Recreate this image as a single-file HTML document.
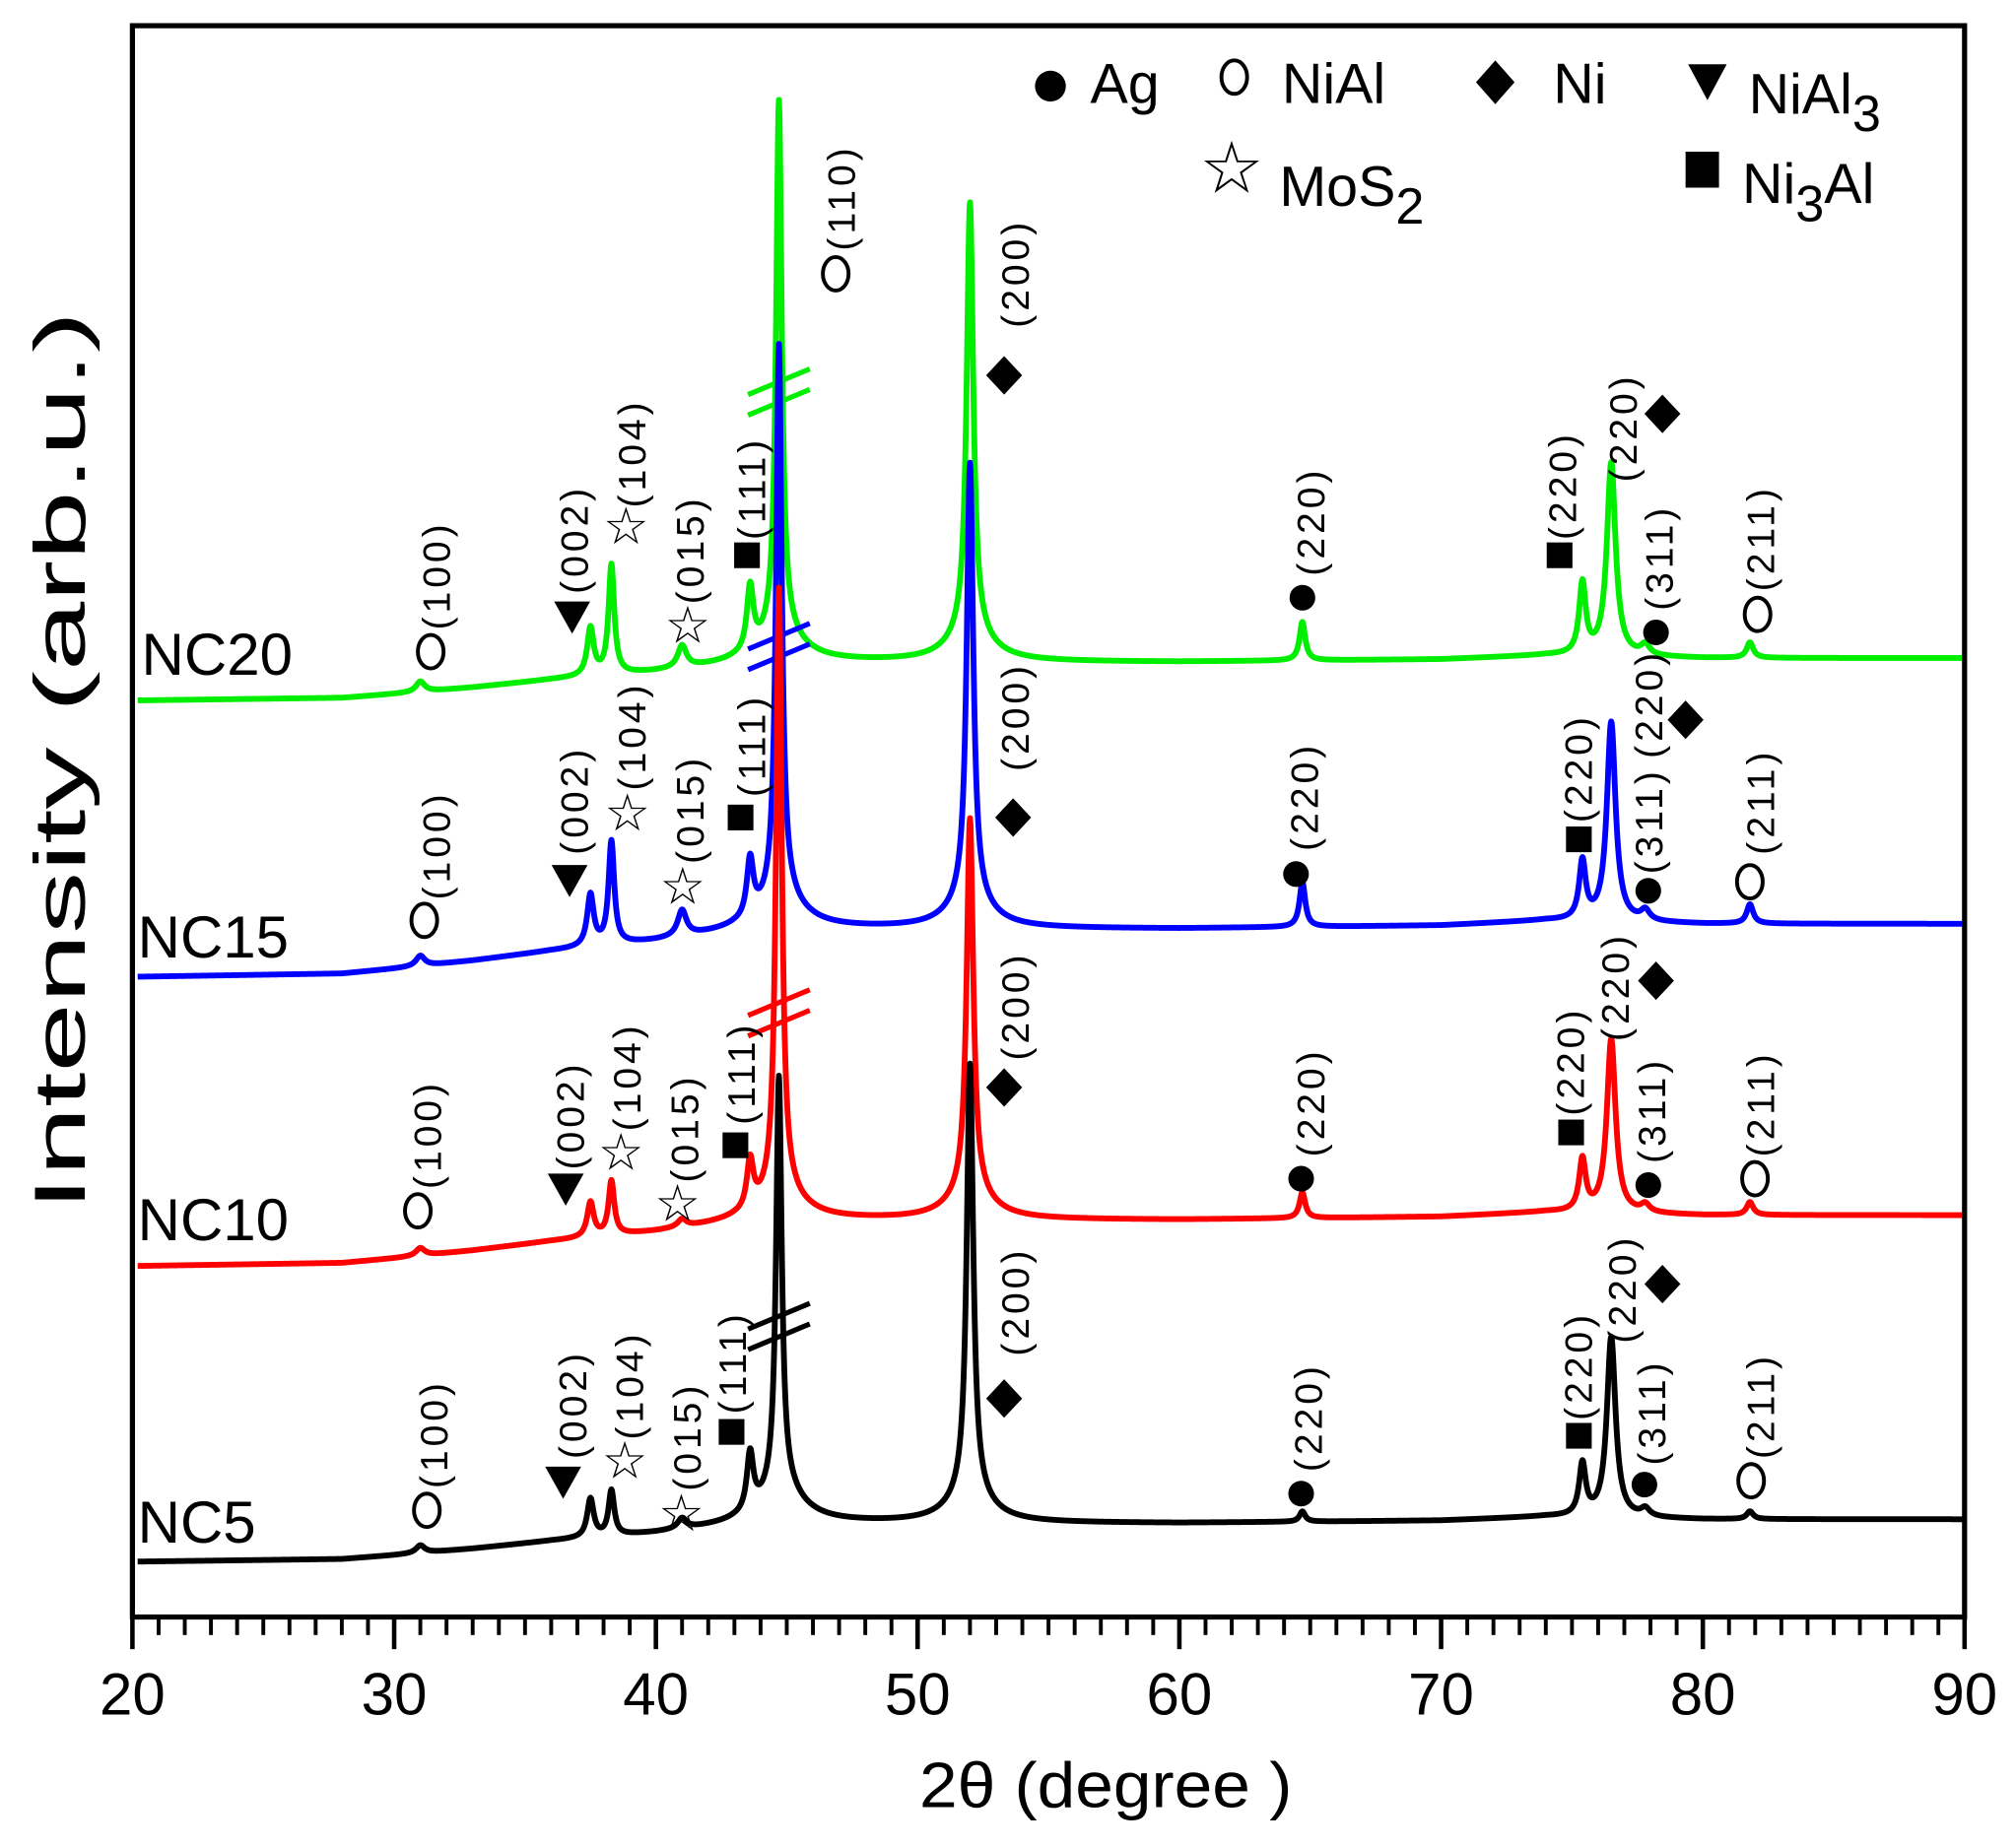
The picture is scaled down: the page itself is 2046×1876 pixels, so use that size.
<!DOCTYPE html>
<html><head><meta charset="utf-8"><style>
html,body{margin:0;padding:0;background:#fff;}
svg{display:block;}
text{font-family:"Liberation Sans",sans-serif;}
</style></head><body>
<svg id="chart" width="2046" height="1876" viewBox="0 0 1568 1437.7" preserveAspectRatio="none" xmlns="http://www.w3.org/2000/svg">
<rect x="0" y="0" width="1568" height="1437.7" fill="#fff"/>
<g id="series-layer"></g>
<g id="annot-layer"></g>
<rect x="103" y="20" width="1425" height="1238" fill="none" stroke="#000" stroke-width="4"/>
<g id="axis-layer"></g>
<text x="860" y="1406" font-size="50" text-anchor="middle" textLength="290" lengthAdjust="spacingAndGlyphs">2θ (degree )</text>
<text transform="translate(66,592) rotate(-90)" font-size="56" text-anchor="middle" textLength="700" lengthAdjust="spacingAndGlyphs">Intensity (arb.u.)</text>
<g font-size="44">
  <circle cx="817" cy="67" r="12" fill="#000"/>
  <text x="848" y="80">Ag</text>
  <ellipse cx="960" cy="60" rx="10" ry="13" fill="none" stroke="#000" stroke-width="3"/>
  <text x="997" y="80">NiAl</text>
  <path d="M1163,47 L1178,64 L1163,81 L1148,64 Z" fill="#000"/>
  <text x="1208" y="80">Ni</text>
  <path d="M1313,50 L1343,50 L1328,78 Z" fill="#000"/>
  <text x="1360" y="88">NiAl<tspan font-size="40" dy="14">3</tspan></text>
  <text x="958" y="150" font-size="56" text-anchor="middle">☆</text>
  <text x="995" y="160">MoS<tspan font-size="40" dy="14">2</tspan></text>
  <rect x="1311" y="118" width="26" height="28" fill="#000"/>
  <text x="1355" y="158">Ni<tspan font-size="40" dy="14">3</tspan><tspan dy="-14">Al</tspan></text>
</g>
</svg>
<script>
// ---- data ----
const xTicks = [20,30,40,50,60,70,80,90];
const seriesNames = ["NC20","NC15","NC10","NC5"];
const seriesColors = ["#00ee00","#0000ff","#ff0000","#000000"];
const seriesOffsets = [545,760,985,1215];
const bgScale = [1.0,1.25,1.2,1.0];
const bgX = [20,28,30,33,36,40,43,46,50,56,60,70,74,80,90];
const bgY = [0,2,5,10,16,22,28,30,30,30,30,32,35,33,33];
const peakPos = [31.0,37.5,38.3,41.0,43.6,44.7,44.8,52.0,52.0,64.7,75.4,76.5,77.8,81.8];
const peakWid = [0.2,0.15,0.13,0.2,0.15,0.13,0.9,0.15,0.9,0.13,0.15,0.2,0.2,0.15];
const hNC20 = [8,37,85,17,50,415,22,335,22,30,55,150,8,12];
const hNC15 = [8,40,80,20,45,430,25,340,22,35,45,155,8,15];
const hNC10 = [6,27,42,6,38,470,22,290,22,20,40,135,6,10];
const hNC5  = [6,30,35,8,45,320,28,335,22,8,40,140,6,6];
const seriesHeights = [hNC20,hNC15,hNC10,hNC5];
const labelX = [110,107,107,107];
const labelY = [525,745,965,1200];
// annotations: [type, x, y, label, labelX, labelBottomY]
const annNC20 = [["o",335,507,"(100)",340,490],["t",445,480,"(002)",447,462],["s",487,410,"(104)",492,395],["s",535,487,"(015)",537,470],["q",581,432,"(111)",585,420],["o",650,213,"(110)",655,195],["d",781,292,"(200)",790,255],["c",1013,465,"(220)",1020,448],["q",1213,432,"(220)",1216,420],["d",1293,322,"(220)",1263,375],["c",1288,492,"(311)",1291,475],["o",1367,478,"(211)",1370,460]];
const annNC15 = [["o",330,716,"(100)",340,700],["t",443,685,"(002)",447,665],["s",488,633,"(104)",492,615],["s",531,690,"(015)",537,672],["q",576,636,"(111)",585,620],["d",788,636,"(200)",790,600],["c",1008,680,"(220)",1015,662],["q",1228,653,"(220)",1228,640],["c",1282,693,"(311)",1283,680],["d",1311,560,"(220)",1283,590],["o",1361,686,"(211)",1370,665]];
const annNC10 = [["o",325,942,"(100)",333,925],["t",440,925,"(002)",444,910],["s",483,897,"(104)",488,880],["s",527,937,"(015)",533,920],["q",572,891,"(111)",577,875],["d",781,846,"(200)",790,825],["c",1012,917,"(220)",1020,900],["q",1222,881,"(220)",1222,868],["d",1288,763,"(220)",1257,810],["c",1282,922,"(311)",1285,905],["o",1365,917,"(211)",1370,900]];
const annNC5 = [["o",332,1175,"(100)",338,1158],["t",438,1153,"(002)",446,1135],["s",486,1137,"(104)",490,1120],["s",530,1178,"(015)",535,1160],["q",569,1114,"(111)",570,1100],["d",781,1088,"(200)",790,1055],["c",1012,1162,"(220)",1018,1145],["q",1228,1117,"(220)",1228,1105],["d",1293,999,"(220)",1262,1045],["c",1279,1155,"(311)",1285,1140],["o",1362,1152,"(211)",1370,1135]];
const annotations = [annNC20,annNC15,annNC10,annNC5];
const breakY = [305,503,788,1032];

// ---- scales ----
const X0=103, X1=1528, XMIN=20, XMAX=90;
function xs(v){return X0+(v-XMIN)*(X1-X0)/(XMAX-XMIN);}
const NS="http://www.w3.org/2000/svg";
function mk(tag,attrs,parent){const e=document.createElementNS(NS,tag);for(const k in attrs)e.setAttribute(k,attrs[k]);parent.appendChild(e);return e;}
function bg(v){for(let i=0;i<bgX.length-1;i++){if(v<=bgX[i+1]){const t=(v-bgX[i])/(bgX[i+1]-bgX[i]);return bgY[i]+t*(bgY[i+1]-bgY[i]);}}return bgY[bgY.length-1];}

// axis
const ax=document.getElementById('axis-layer');
for(let v=20;v<=90;v+=1){
  const major=(v%10===0);
  const t=mk('line',{x1:xs(v),x2:xs(v),y1:1258,y2:major?1283:1272,stroke:'#000','stroke-width':major?3.5:3},ax);
  
  
}
xTicks.forEach(v=>{
  const t=mk('text',{x:xs(v),y:1334,'font-size':46,'text-anchor':'middle'},ax);
  t.textContent=v;
  
  
});

// series
const sl=document.getElementById('series-layer');
seriesNames.forEach((nm,si)=>{
  const hs=seriesHeights[si];
  let d='';
  for(let v=20.2;v<=90;v+=0.02){
    let y=seriesOffsets[si]-bg(v)*bgScale[si];
    for(let k=0;k<peakPos.length;k++){const z=(v-peakPos[k])/peakWid[k];y-=hs[k]/(1+z*z);}
    d+=(d?'L':'M')+xs(v).toFixed(2)+','+y.toFixed(2);
  }
  const p=mk('path',{d:d,fill:'none',stroke:seriesColors[si],'stroke-width':4.5,'stroke-linejoin':'round'},sl);
  
  
  const lb=mk('text',{x:labelX[si],y:labelY[si],'font-size':46},sl);
  lb.textContent=nm;
  
  
  // break marks
  const bx=xs(44.7), by=breakY[si];
  [-8,8].forEach(o=>{
    const b=mk('line',{x1:bx-24,y1:by+o+10,x2:bx+24,y2:by+o-10,stroke:seriesColors[si],'stroke-width':4},sl);
    
    
  });
});

// annotations
const al=document.getElementById('annot-layer');
annotations.forEach((list,si)=>{
  list.forEach(a=>{
    const [tp,x,y,lab,lx,ly]=a;
    let m;
    if(tp==='o') m=mk('ellipse',{cx:x,cy:y,rx:10,ry:13,fill:'none',stroke:'#000','stroke-width':3},al);
    else if(tp==='c') m=mk('circle',{cx:x,cy:y,r:10,fill:'#000'},al);
    else if(tp==='t') m=mk('path',{d:`M${x-14},${y-12} L${x+14},${y-12} L${x},${y+13} Z`,fill:'#000'},al);
    else if(tp==='q') m=mk('rect',{x:x-10,y:y-10,width:20,height:20,fill:'#000'},al);
    else if(tp==='d') m=mk('path',{d:`M${x},${y-15} L${x+14},${y} L${x},${y+15} L${x-14},${y} Z`,fill:'#000'},al);
    else { m=mk('text',{x:x,y:y+13,'font-size':40,'text-anchor':'middle'},al); m.textContent='☆'; }
    
    
    const t=mk('text',{transform:`translate(${lx+10},${ly}) rotate(-90)`,'font-size':30,'letter-spacing':3},al);
    t.textContent=lab;
    
    
  });
});
</script>
</body></html>
